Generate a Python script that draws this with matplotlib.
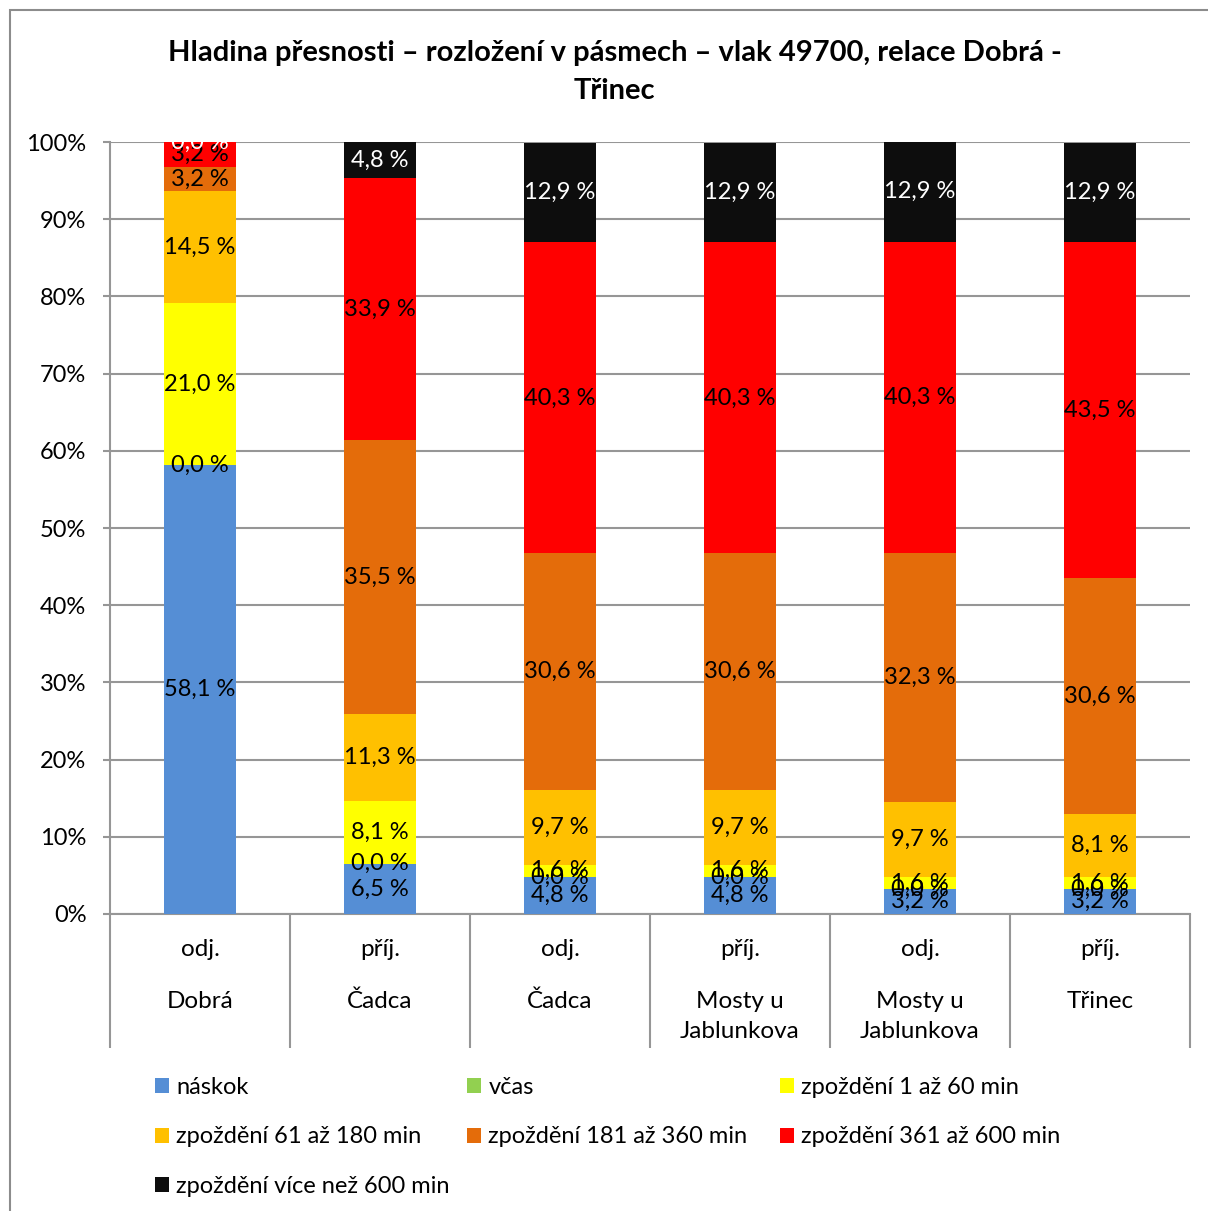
import matplotlib.pyplot as plt
from matplotlib.patches import Rectangle
import numpy as np

plt.rcParams['font.family'] = ['Lato', 'DejaVu Sans']

# Data
stations_top = ['odj.', 'příj.', 'odj.', 'příj.', 'odj.', 'příj.']
stations_bottom = ['Dobrá', 'Čadca', 'Čadca', 'Mosty u\nJablunkova', 'Mosty u\nJablunkova', 'Třinec']
series_names = ['náskok', 'včas', 'zpoždění 1 až 60 min', 'zpoždění 61 až 180 min',
                'zpoždění 181 až 360 min', 'zpoždění 361 až 600 min', 'zpoždění více než 600 min']
naskok = [58.1, 6.5, 4.8, 4.8, 3.2, 3.2]
vcas = [0.0, 0.0, 0.0, 0.0, 0.0, 0.0]
zp_1_60 = [21.0, 8.1, 1.6, 1.6, 1.6, 1.6]
zp_61_180 = [14.5, 11.3, 9.7, 9.7, 9.7, 8.1]
zp_181_360 = [3.2, 35.5, 30.6, 30.6, 32.3, 30.6]
zp_361_600 = [3.2, 33.9, 40.3, 40.3, 40.3, 43.5]
zp_600 = [0.0, 4.8, 12.9, 12.9, 12.9, 12.9]
values = [naskok, vcas, zp_1_60, zp_61_180, zp_181_360, zp_361_600, zp_600]
colors = ['#558ED5', '#92D050', '#FFFF00', '#FFC000', '#E46C0A', '#FF0000', '#0D0D0D']
label_colors = ['black'] * 6 + ['white']

grid_c = '#969696'
fs = 17

fig = plt.figure(figsize=(12.08, 12.11), dpi=100)
fig.patches.append(Rectangle((10 / 1208, -0.1), 1.2, 1 - 10 / 1211 + 0.1,
                             transform=fig.transFigure, fill=False,
                             edgecolor='#8c8c8c', lw=1.5))
ax = fig.add_axes([110 / 1208, 1 - 914 / 1211, 1080 / 1208, 772 / 1211])

x = np.arange(len(stations_top))
bottom = np.zeros(len(x))
handles = []
for vals, name, col, lc in zip(values, series_names, colors, label_colors):
    vals = np.array(vals)
    bars = ax.bar(x, vals, 0.4, bottom=bottom, color=col, label=name, zorder=3)
    ax.bar_label(bars, labels=[('%.1f %%' % v).replace('.', ',') for v in vals],
                 label_type='center', color=lc, fontsize=fs, zorder=4)
    handles.append(bars)
    bottom += vals

ax.set_xlim(-0.5, len(x) - 0.5)
ax.set_ylim(0, 100)
ax.set_yticks(np.arange(0, 101, 10))
ax.set_yticklabels(['%d%%' % t for t in range(0, 101, 10)], fontsize=fs)
ax.yaxis.grid(True, color=grid_c, lw=1.5, zorder=0)
ax.tick_params(axis='y', length=5, color=grid_c, width=1.5, pad=12)
for s in ['top', 'right']:
    ax.spines[s].set_visible(False)
ax.spines['left'].set_color(grid_c)
ax.spines['left'].set_linewidth(1.5)
ax.spines['bottom'].set_color(grid_c)
ax.spines['bottom'].set_linewidth(1.5)

# category separators
ax.set_xticks(x)
ax.set_xticklabels([])
ax.tick_params(axis='x', which='major', length=0)
ax.set_xticks(np.arange(-0.5, len(x), 1), minor=True)
ax.tick_params(axis='x', which='minor', length=134 * 0.72, width=1.5, color=grid_c)

tr = ax.get_xaxis_transform()
for i in x:
    ax.text(i, -(950 - 914) / 772, stations_top[i], transform=tr, ha='center', va='center', fontsize=fs + 0.5)
    ax.text(i, -(991 - 914) / 772, stations_bottom[i], transform=tr, ha='center', va='top',
            fontsize=fs + 0.5, linespacing=1.55)

fig.text(0.509, 1 - 53 / 1211, 'Hladina přesnosti – rozložení v pásmech – vlak 49700, relace Dobrá -',
         ha='center', va='center', fontsize=21, fontweight='bold')
fig.text(0.509, 1 - 91 / 1211, 'Třinec', ha='center', va='center', fontsize=21, fontweight='bold')

# legend laid out row by row in three fixed columns
columns = [[0, 3, 6], [1, 4], [2, 5]]
col_x = [155, 467, 780]
for idx, cx in zip(columns, col_x):
    leg = fig.legend([handles[i] for i in idx], [series_names[i] for i in idx], ncol=1,
                     loc='upper left', bbox_to_anchor=(cx / 1208, 1 - 1077 / 1211), frameon=False,
                     fontsize=fs, handlelength=0.6, handleheight=0.6, handletextpad=0.3,
                     labelspacing=1.2, borderaxespad=0, borderpad=0)

fig.savefig('out.png', dpi=100)
